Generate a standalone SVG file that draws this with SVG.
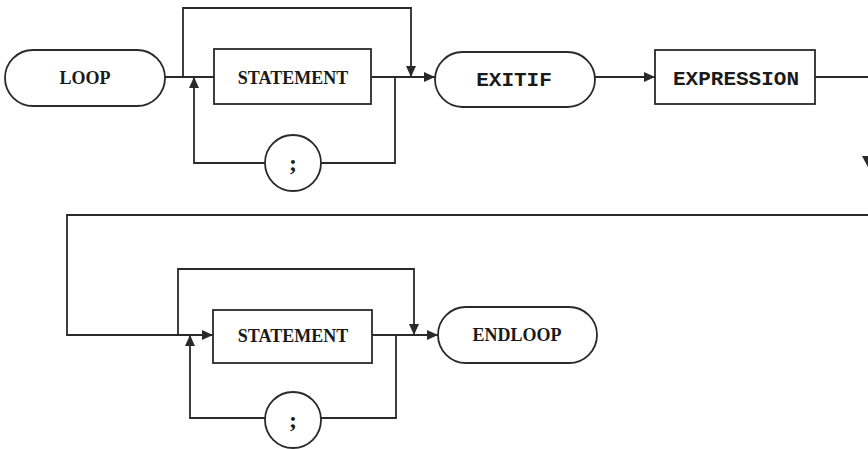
<svg xmlns="http://www.w3.org/2000/svg" width="868" height="449" viewBox="0 0 868 449">
<style>
.b{fill:#fff;stroke:#2a2a2a;stroke-width:1.8}
.c{fill:none;stroke:#2a2a2a;stroke-width:1.8}
.s{font-family:"Liberation Serif",serif;font-weight:bold;font-size:18px;fill:#1a1a1a;text-anchor:middle}
.m{font-family:"Liberation Mono",monospace;font-weight:bold;font-size:21px;fill:#1a1a1a;text-anchor:middle}
.p{font-family:"Liberation Serif",serif;font-weight:bold;font-size:24px;fill:#1a1a1a;text-anchor:middle}
</style>
<defs>
<marker id="a" markerUnits="userSpaceOnUse" markerWidth="12" markerHeight="10" refX="11" refY="5" orient="auto">
<path d="M0,0 L11,5 L0,10 z" fill="#2a2a2a"/>
</marker>
</defs>
<rect width="868" height="449" fill="#fff"/>
<g id="connectors">
<path class="c" d="M165 77 H214"/>
<path class="c" d="M183 77 V8 H411 V77" marker-end="url(#a)"/>
<path class="c" d="M395 77 V163 H321"/>
<path class="c" d="M265 163 H194 V77" marker-end="url(#a)"/>
<path class="c" d="M371 77 H435" marker-end="url(#a)"/>
<path class="c" d="M595 77 H655" marker-end="url(#a)"/>
<path class="c" d="M815 77 H871 V215 H67 V335 H213" marker-end="url(#a)"/>
<polygon points="862,156 880,156 871,173" fill="#2a2a2a"/>
<path class="c" d="M178 335 V269 H414 V335" marker-end="url(#a)"/>
<path class="c" d="M396 335 V418 H321"/>
<path class="c" d="M265 418 H190 V335" marker-end="url(#a)"/>
<path class="c" d="M372 335 H438" marker-end="url(#a)"/>
</g>
<g id="loop"><rect class="b" x="5" y="50" width="160" height="56" rx="28"/><text class="s" x="85" y="84">LOOP</text></g>
<g id="statement1"><rect class="b" x="214" y="49" width="157" height="55"/><text class="s" x="293" y="84">STATEMENT</text></g>
<g id="semi1"><circle class="b" cx="293" cy="163" r="28"/><text class="p" x="293" y="171">;</text></g>
<g id="exitif"><rect class="b" x="435" y="52" width="160" height="55" rx="27.5"/><text class="m" x="514" y="86">EXITIF</text></g>
<g id="expression"><rect class="b" x="655" y="50" width="160" height="54"/><text class="m" x="736" y="85">EXPRESSION</text></g>
<g id="statement2"><rect class="b" x="213" y="310" width="159" height="53"/><text class="s" x="293" y="342">STATEMENT</text></g>
<g id="semi2"><circle class="b" cx="293" cy="420" r="28"/><text class="p" x="293" y="428">;</text></g>
<g id="endloop"><rect class="b" x="438" y="307" width="159" height="56" rx="28"/><text class="s" x="517" y="341">ENDLOOP</text></g>
</svg>
